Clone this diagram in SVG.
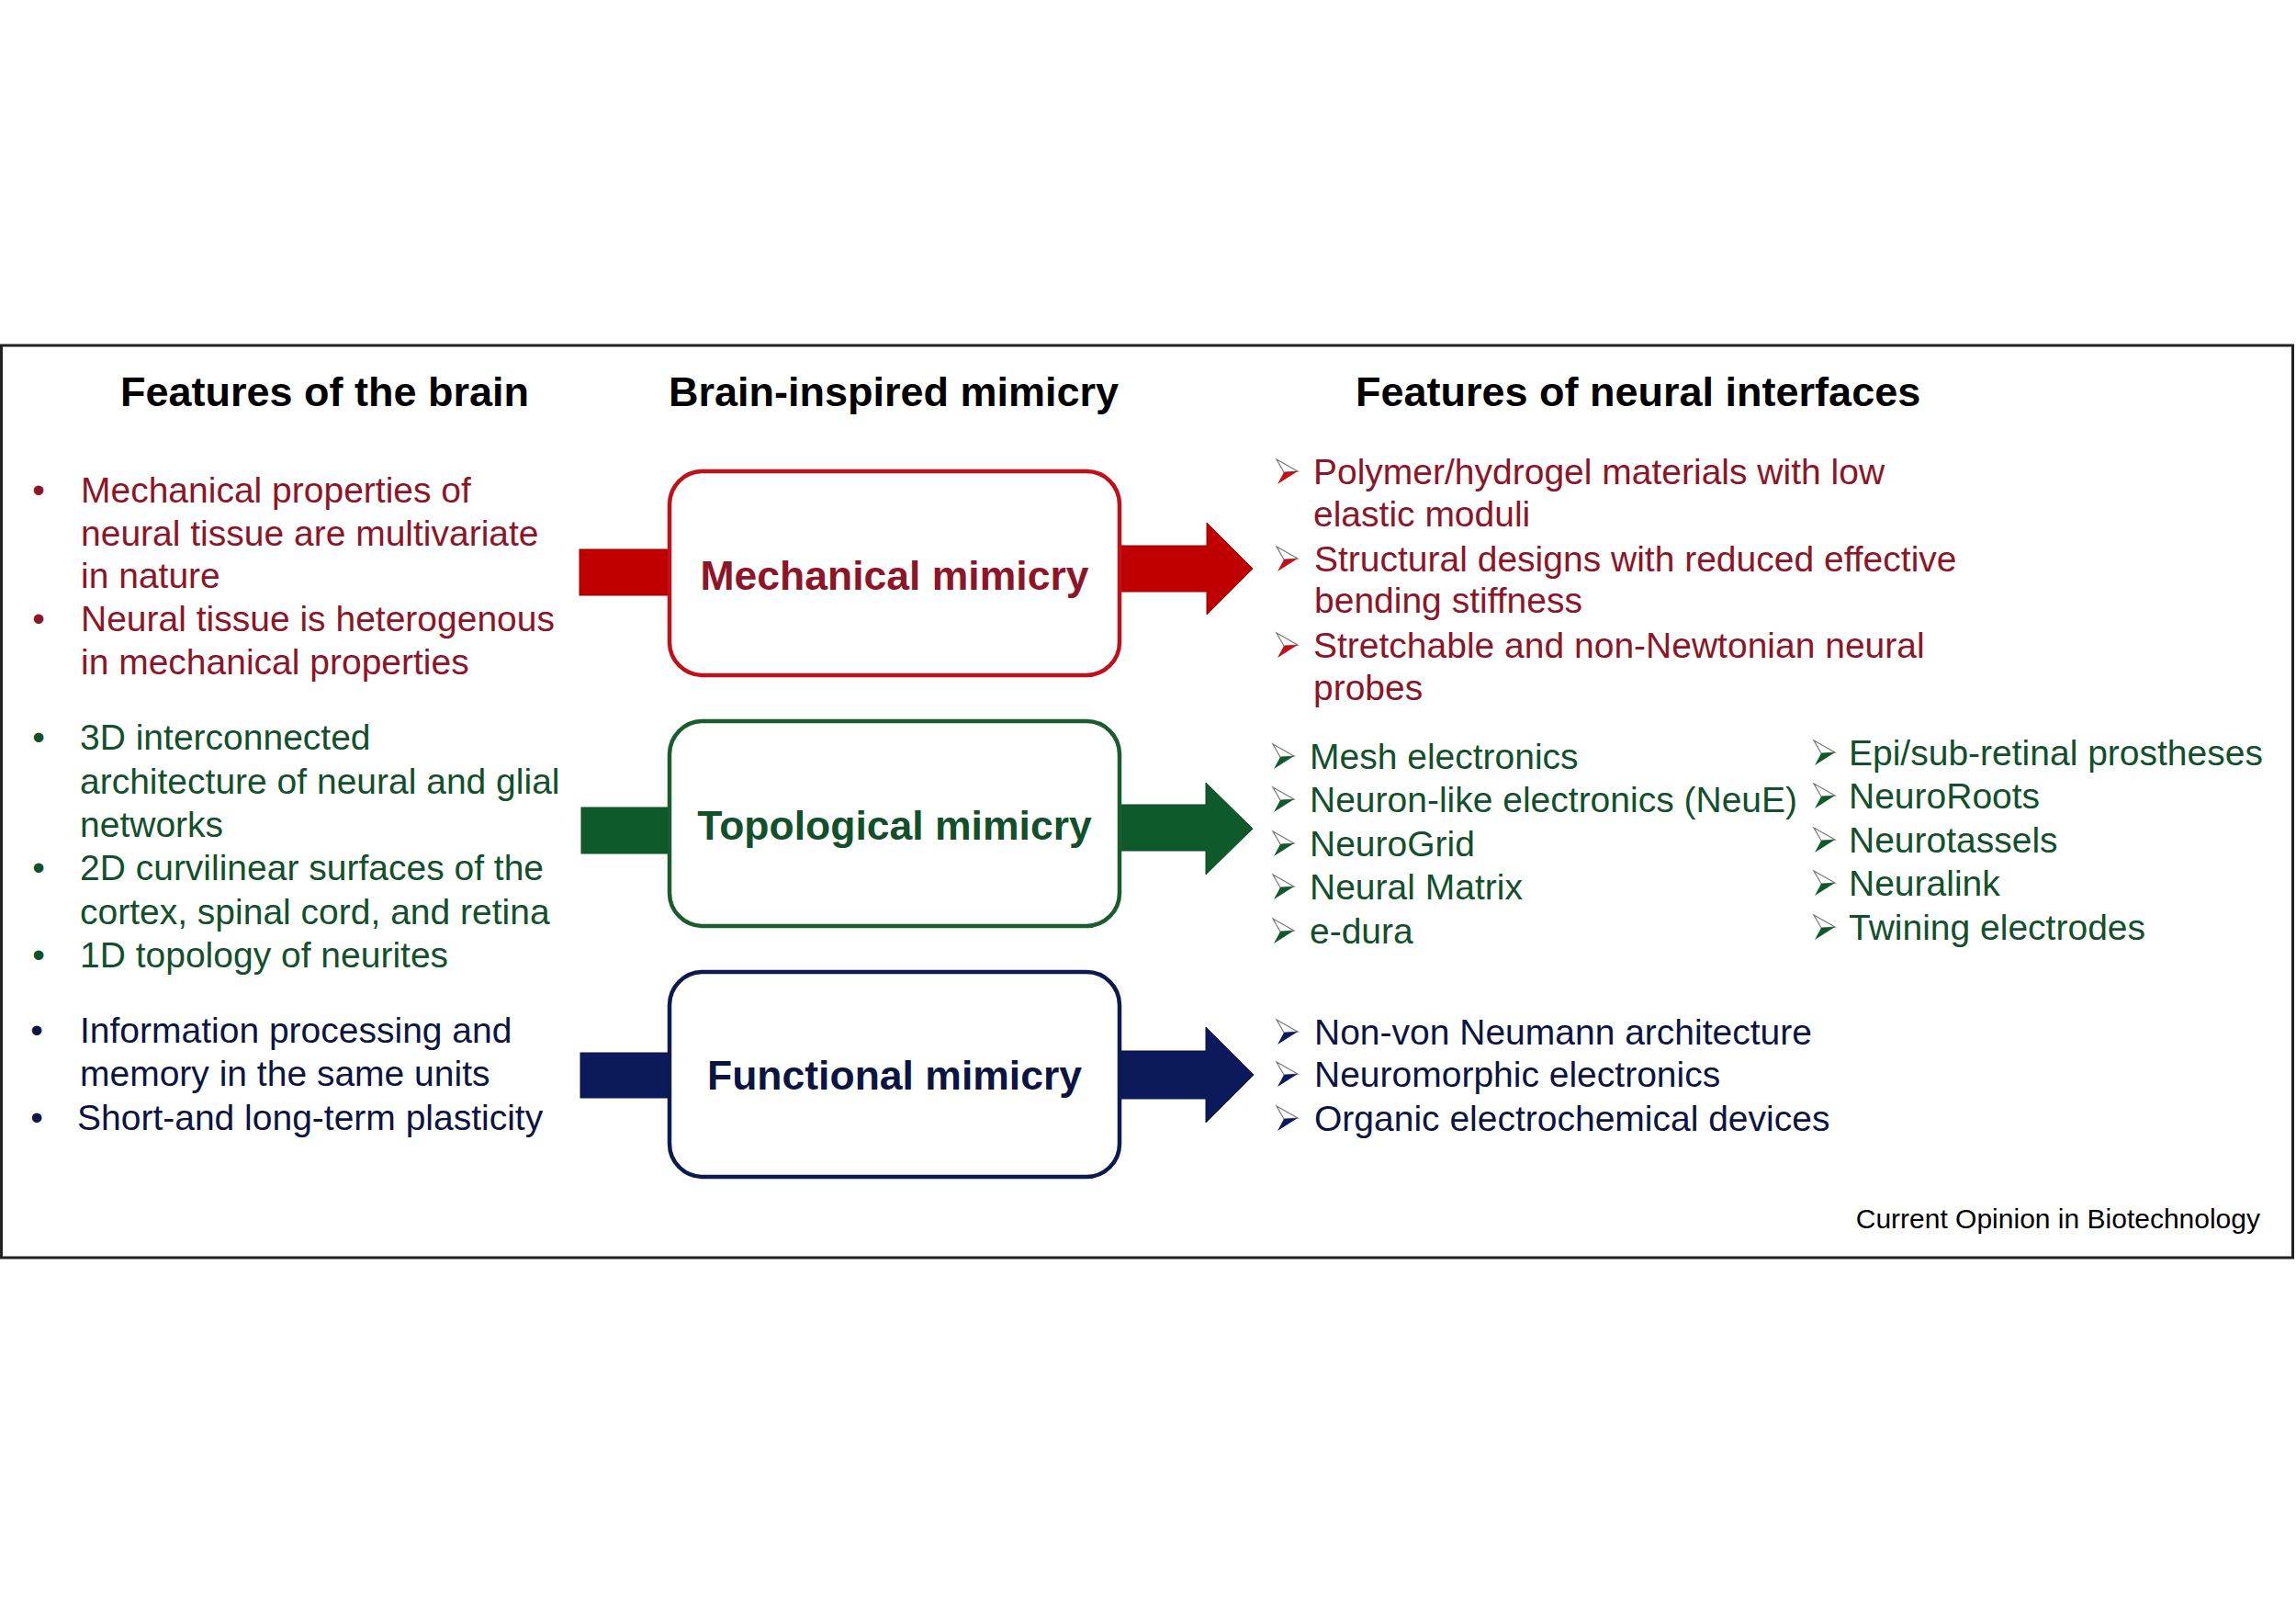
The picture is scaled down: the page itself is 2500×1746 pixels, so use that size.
<svg xmlns="http://www.w3.org/2000/svg" xmlns:xlink="http://www.w3.org/1999/xlink" width="2500" height="1746" viewBox="0 0 2500 1746">
<style>
text{font-family:"Liberation Sans",Arial,Helvetica,sans-serif}
.hd{font-size:45px;font-weight:bold;fill:#000}
.lbl{font-size:44.5px;font-weight:bold;text-anchor:middle}
.t{font-size:39px}
.bul{font-size:39px;text-anchor:middle}
.r{fill:#8E1427}
.g{fill:#12502B}
.b{fill:#0B1442}
.box{fill:#fff;stroke-width:4.5}
.cr{font-size:30px;fill:#000;text-anchor:end}
</style>
<defs>
<g id="aR"><polygon points="0,-27 23,-14 8,-13" fill="#fff" stroke="#777" stroke-width="1.2"/><polygon points="8,-13 23,-14 1,0" fill="#C0101A"/></g>
<g id="aG"><polygon points="0,-27 23,-14 8,-13" fill="#fff" stroke="#777" stroke-width="1.2"/><polygon points="8,-13 23,-14 1,0" fill="#0F5A2A"/></g>
<g id="aB"><polygon points="0,-27 23,-14 8,-13" fill="#fff" stroke="#777" stroke-width="1.2"/><polygon points="8,-13 23,-14 1,0" fill="#0B1A5C"/></g>
</defs>
<rect x="0" y="0" width="2500" height="1746" fill="#fff"/>
<rect id="frame" x="1.5" y="376" width="2495" height="993" fill="none" stroke="#222" stroke-width="3"/>

<g id="headers">
<text class="hd" x="131" y="442">Features of the brain</text>
<text class="hd" x="973" y="442" text-anchor="middle">Brain-inspired mimicry</text>
<text class="hd" x="1476" y="442">Features of neural interfaces</text>
</g>

<g id="connectors">
<rect x="631" y="598" width="98" height="50" fill="#C00000" stroke="#A00000" stroke-width="1"/>
<polygon points="1219,594 1314,594 1314,569 1364,619 1314,669 1314,644 1219,644" fill="#C00000" stroke="#A00000" stroke-width="1"/>
<rect x="633" y="879" width="96" height="50" fill="#0F5A2A" stroke="#0B4A22" stroke-width="1"/>
<polygon points="1220,876 1313,876 1313,852 1364,902 1313,952 1313,926 1220,926" fill="#0F5A2A" stroke="#0B4A22" stroke-width="1"/>
<rect x="632" y="1146" width="97" height="49" fill="#0C1A5C" stroke="#081448" stroke-width="1"/>
<polygon points="1221,1144 1313,1144 1313,1118 1365,1170 1313,1222 1313,1196 1221,1196" fill="#0C1A5C" stroke="#081448" stroke-width="1"/>
</g>

<g id="node-mechanical">
<rect class="box" x="729" y="513" width="490" height="222" rx="36" stroke="#C0101A"/>
<text class="lbl r" x="974" y="642">Mechanical mimicry</text>
</g>
<g id="node-topological">
<rect class="box" x="729" y="785" width="490" height="223" rx="36" stroke="#1A5C2E"/>
<text class="lbl g" x="974" y="914">Topological mimicry</text>
</g>
<g id="node-functional">
<rect class="box" x="729" y="1058" width="490" height="223" rx="36" stroke="#0C1A4F"/>
<text class="lbl b" x="974" y="1186">Functional mimicry</text>
</g>

<g id="brain-mechanical">
<text class="bul r" x="42" y="547">•</text>
<text class="t r" x="88" y="547">Mechanical properties of</text>
<text class="t r" x="88" y="594">neural tissue are multivariate</text>
<text class="t r" x="88" y="640">in nature</text>
<text class="bul r" x="42" y="687">•</text>
<text class="t r" x="88" y="687">Neural tissue is heterogenous</text>
<text class="t r" x="88" y="734">in mechanical properties</text>
</g>
<g id="brain-topological">
<text class="bul g" x="42" y="816">•</text>
<text class="t g" x="87" y="816">3D interconnected</text>
<text class="t g" x="87" y="864">architecture of neural and glial</text>
<text class="t g" x="87" y="911">networks</text>
<text class="bul g" x="42" y="958">•</text>
<text class="t g" x="87" y="958">2D curvilinear surfaces of the</text>
<text class="t g" x="87" y="1006">cortex, spinal cord, and retina</text>
<text class="bul g" x="42" y="1053">•</text>
<text class="t g" x="87" y="1053">1D topology of neurites</text>
</g>
<g id="brain-functional">
<text class="bul b" x="40" y="1135">•</text>
<text class="t b" x="87" y="1135">Information processing and</text>
<text class="t b" x="87" y="1182">memory in the same units</text>
<text class="bul b" x="40" y="1230">•</text>
<text class="t b" x="84" y="1230">Short-and long-term plasticity</text>
</g>

<g id="interfaces-mechanical">
<use xlink:href="#aR" href="#aR" x="1390" y="527"/>
<text class="t r" x="1430" y="527">Polymer/hydrogel materials with low</text>
<text class="t r" x="1430" y="573">elastic moduli</text>
<use xlink:href="#aR" href="#aR" x="1390" y="622"/>
<text class="t r" x="1431" y="622">Structural designs with reduced effective</text>
<text class="t r" x="1431" y="667">bending stiffness</text>
<use xlink:href="#aR" href="#aR" x="1390" y="716"/>
<text class="t r" x="1430" y="716">Stretchable and non-Newtonian neural</text>
<text class="t r" x="1430" y="762">probes</text>
</g>
<g id="interfaces-topological">
<use xlink:href="#aG" href="#aG" x="1386" y="837"/>
<text class="t g" x="1426" y="837">Mesh electronics</text>
<use xlink:href="#aG" href="#aG" x="1386" y="884"/>
<text class="t g" x="1426" y="884">Neuron-like electronics (NeuE)</text>
<use xlink:href="#aG" href="#aG" x="1386" y="932"/>
<text class="t g" x="1426" y="932">NeuroGrid</text>
<use xlink:href="#aG" href="#aG" x="1386" y="979"/>
<text class="t g" x="1426" y="979">Neural Matrix</text>
<use xlink:href="#aG" href="#aG" x="1386" y="1027"/>
<text class="t g" x="1426" y="1027">e-dura</text>
<use xlink:href="#aG" href="#aG" x="1975" y="833"/>
<text class="t g" x="2013" y="833">Epi/sub-retinal prostheses</text>
<use xlink:href="#aG" href="#aG" x="1975" y="880"/>
<text class="t g" x="2013" y="880">NeuroRoots</text>
<use xlink:href="#aG" href="#aG" x="1975" y="928"/>
<text class="t g" x="2013" y="928">Neurotassels</text>
<use xlink:href="#aG" href="#aG" x="1975" y="975"/>
<text class="t g" x="2013" y="975">Neuralink</text>
<use xlink:href="#aG" href="#aG" x="1975" y="1023"/>
<text class="t g" x="2013" y="1023">Twining electrodes</text>
</g>
<g id="interfaces-functional">
<use xlink:href="#aB" href="#aB" x="1390" y="1137"/>
<text class="t b" x="1431" y="1137">Non-von Neumann architecture</text>
<use xlink:href="#aB" href="#aB" x="1390" y="1183"/>
<text class="t b" x="1431" y="1183">Neuromorphic electronics</text>
<use xlink:href="#aB" href="#aB" x="1390" y="1231"/>
<text class="t b" x="1431" y="1231">Organic electrochemical devices</text>
</g>

<text class="cr" x="2461" y="1337">Current Opinion in Biotechnology</text>
</svg>
